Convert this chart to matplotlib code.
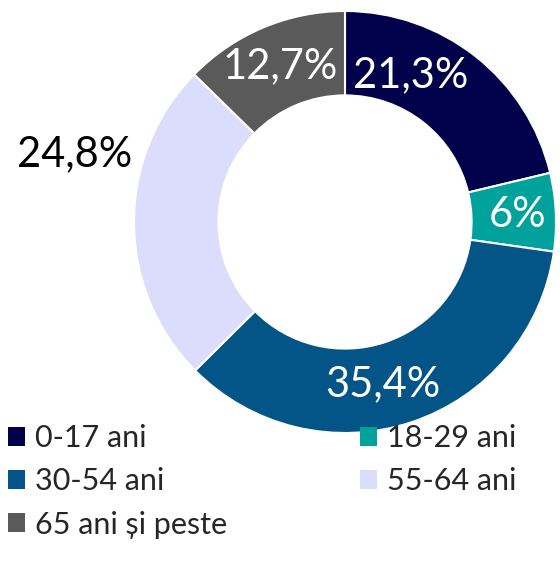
import matplotlib
matplotlib.use("Agg")
import numpy as np
import matplotlib.pyplot as plt
from matplotlib.patches import Patch

categories = ["0-17 ani", "18-29 ani", "30-54 ani", "55-64 ani", "65 ani și peste"]
values = [21.3, 6.0, 35.4, 24.8, 12.7]
labels = ["21,3%", "6%", "35,4%", "24,8%", "12,7%"]
colors = ["#00004B", "#00A29B", "#045587", "#DCDCFC", "#5A5A5A"]

plt.rcParams["font.family"] = ["Lato", "DejaVu Sans"]

W, H = 560, 570
fig = plt.figure(figsize=(W / 100, H / 100), dpi=100)

# donut: centre (345, 222) px, outer radius 211 px
cx, cy, R = 345, 222, 211
ax = fig.add_axes([(cx - R) / W, (H - cy - R) / H, 2 * R / W, 2 * R / H])
wedges, _ = ax.pie(
        values,
        colors=colors,
        startangle=90,
        counterclock=False,
        radius=1.0,
        wedgeprops=dict(width=0.40, edgecolor="white", linewidth=1.5),
)
ax.set_xlim(-1, 1)
ax.set_ylim(-1, 1)
ax.set_aspect("equal")
ax.axis("off")

# label placement (angle deg, radius) and colour
label_pos = [(66, 0.76), (2.3, 0.82), (-76.9, 0.79), (166, 1.32), (112.7, 0.80)]
label_col = ["white", "white", "white", "black", "white"]
for txt, (ang, r), c in zip(labels, label_pos, label_col):
        a = np.deg2rad(ang)
        ax.text(r * np.cos(a), r * np.sin(a), txt, ha="center", va="center",
                fontsize=30, color=c, clip_on=False)

handles = [Patch(facecolor=c, edgecolor="none") for c in colors]
order = [0, 2, 4, 1, 3]
fig.legend(
        [handles[i] for i in order],
        [categories[i] for i in order],
        ncol=2,
        loc="upper left",
        bbox_to_anchor=(8 / W, 1 - 424 / H),
        frameon=False,
        fontsize=22,
        handlelength=0.56,
        handleheight=0.56,
        handletextpad=0.33,
        columnspacing=4.35,
        labelspacing=0.5,
        labelcolor="#262626",
        borderpad=0,
        borderaxespad=0,
)

fig.savefig("out.png", dpi=100)
